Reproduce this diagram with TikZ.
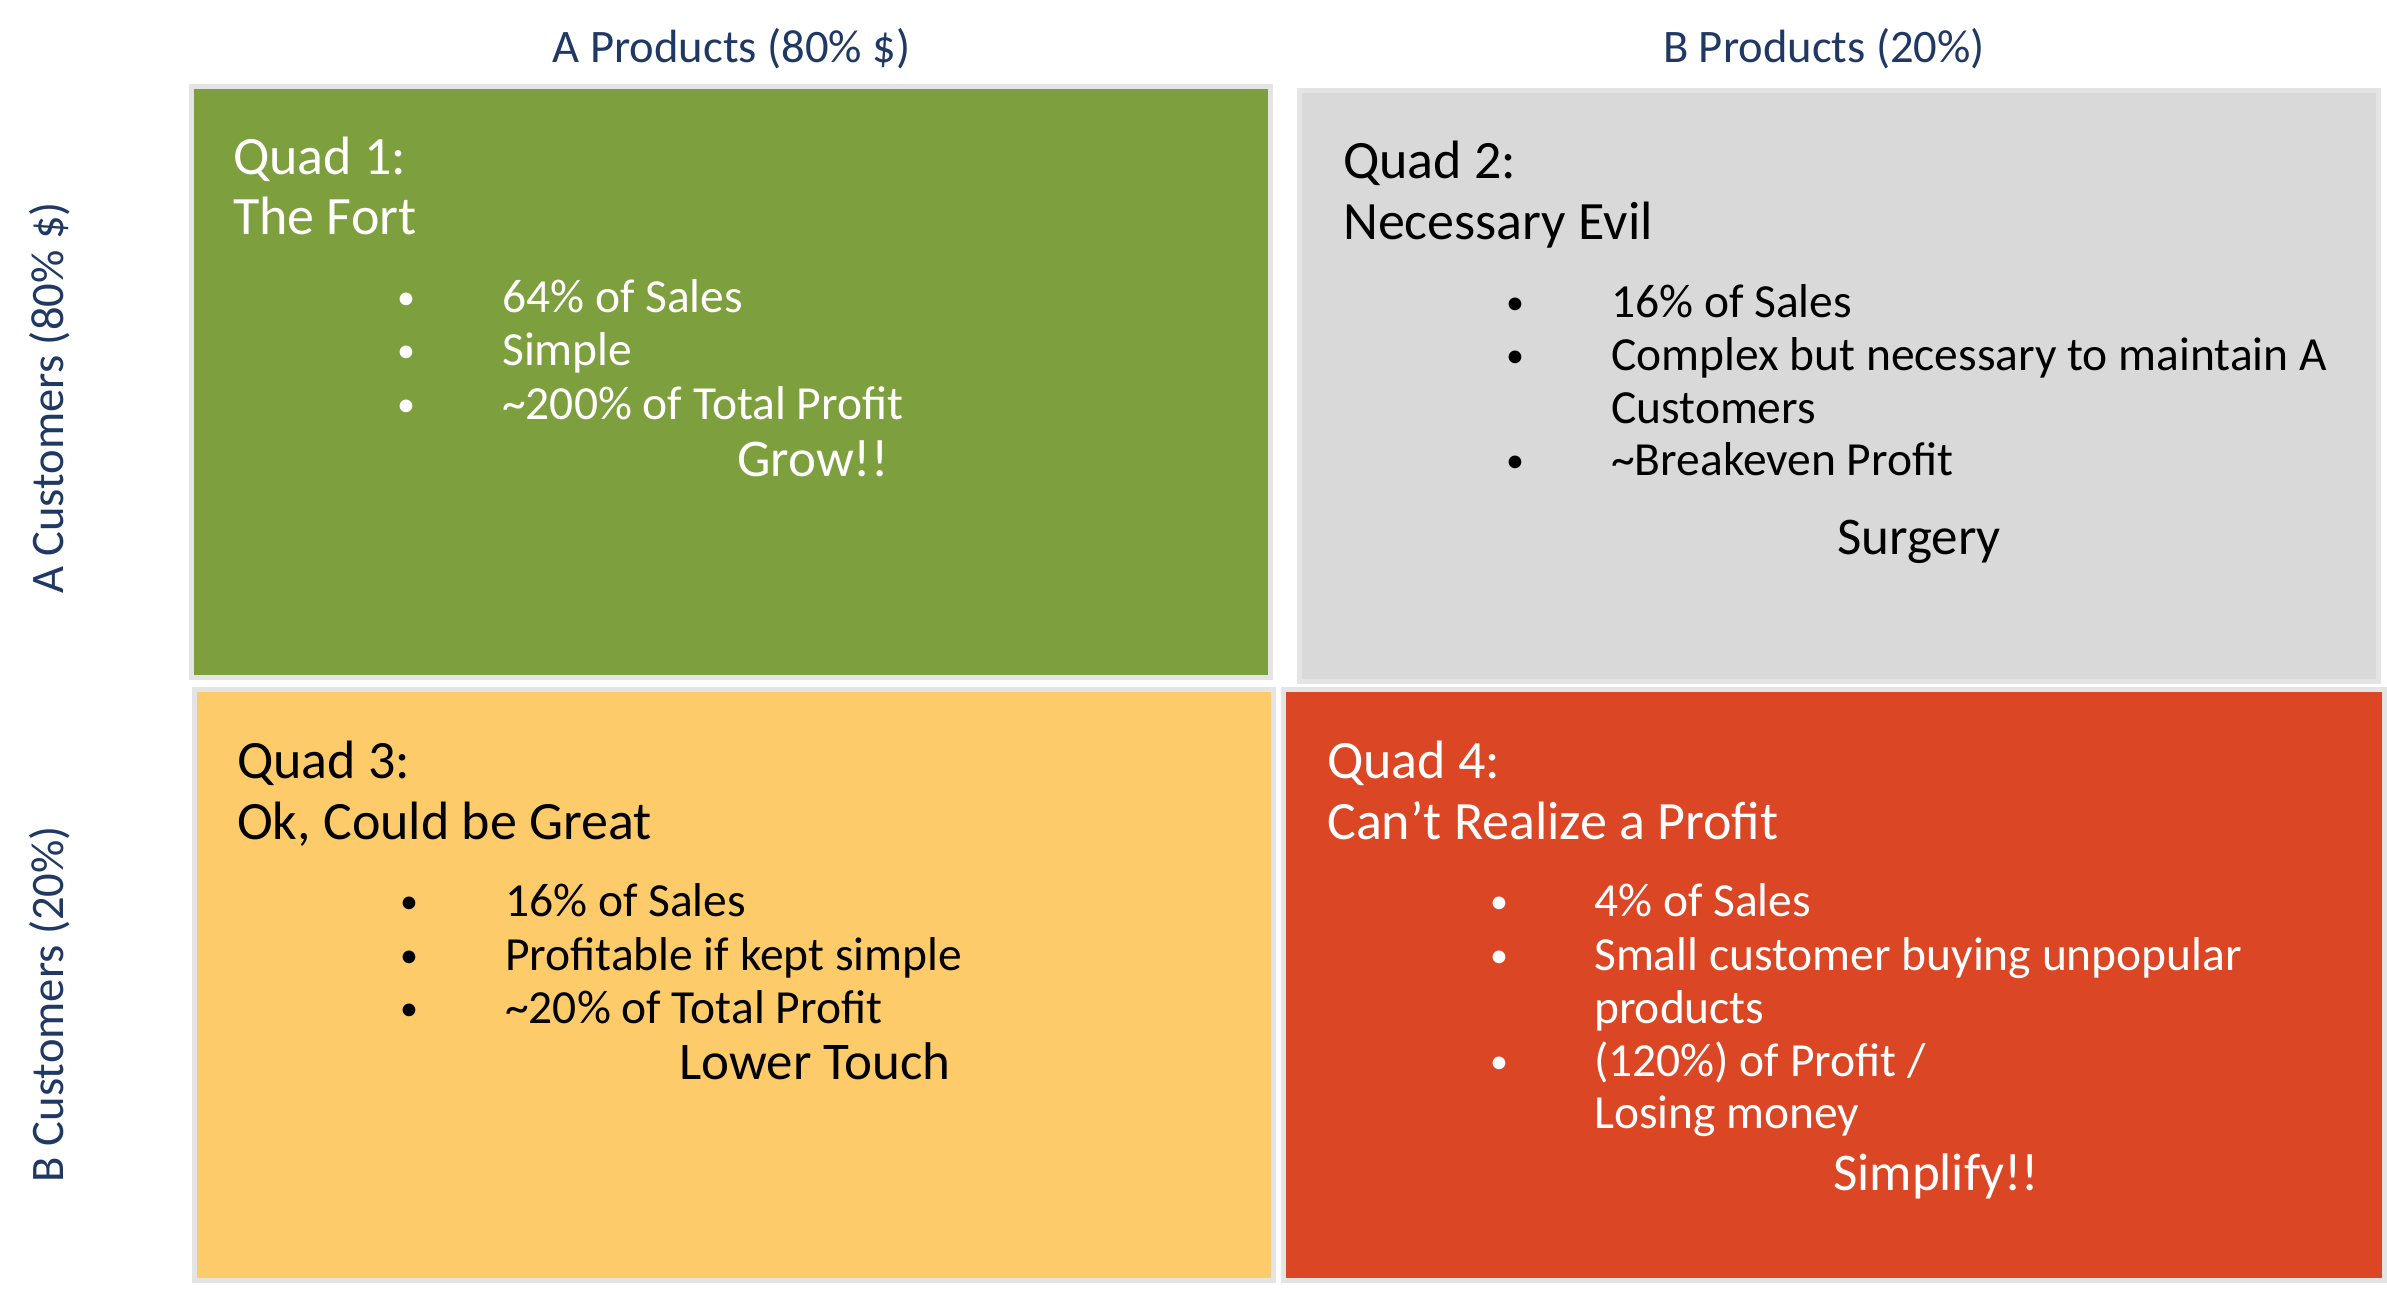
\documentclass[tikz,border=0pt]{standalone}
\usepackage{fontspec}
\setmainfont{Carlito}
\definecolor{qgreen}{HTML}{7E9F3E}
\definecolor{qgray}{HTML}{D9D9D9}
\definecolor{qyellow}{HTML}{FDCB6A}
\definecolor{qred}{HTML}{DB4625}
\definecolor{qborder}{HTML}{E4E4E4}
\definecolor{navy}{HTML}{1F3864}
\begin{document}
\begin{tikzpicture}[x=1pt,y=-1pt,
  quadbox/.style={draw=qborder, line width=5pt},
  ttl/.style={anchor=base west, inner sep=0pt, font=\fontsize{54}{60}\selectfont},
  itm/.style={anchor=base west, inner sep=0pt, font=\fontsize{47.5}{53}\selectfont},
  bul/.style={anchor=base, inner sep=0pt, yshift=3pt, font=\fontsize{36}{40}\selectfont},
  act/.style={anchor=base west, inner sep=0pt, font=\fontsize{53}{60}\selectfont},
  axislbl/.style={inner sep=0pt, text=navy, font=\fontsize{46.6}{50}\selectfont}]
\useasboundingbox (0,0) rectangle (2387,1298);
\fill[white] (0,0) rectangle (2387,1298);

% boxes
\draw[quadbox, fill=qgreen]  (191.5,86.5) rectangle (1270.2,677.2);
\draw[quadbox, fill=qgray]   (1299.2,90.8) rectangle (2378.5,681.2);
\draw[quadbox, fill=qyellow] (194.5,689.2) rectangle (1273.2,1280.2);
\draw[quadbox, fill=qred]    (1283.2,689.2) rectangle (2384.5,1280.2);

% axis labels
\node[axislbl] (ap) at (731.5,49) {A Products (80\% \$)};
\node[axislbl] (bp) at (1824,49) {B Products (20\%)};
\node[axislbl, rotate=90] (ac) at (50,398) {A Customers (80\% \$)};
\node[axislbl, rotate=90] (bc) at (50,1004) {B Customers (20\%)};

% Quad 1
\begin{scope}[every node/.append style={text=white}]
\node[ttl] (q1a) at (233,174) {Quad 1:};
\node[ttl] (q1b) at (233,234) {The Fort};
\node[bul] (q1d1) at (406,312) {•};
\node[itm] (q1i1) at (502,312) {64\% of Sales};
\node[bul] (q1d2) at (406,365) {•};
\node[itm] (q1i2) at (502,365) {Simple};
\node[bul] (q1d3) at (406,419) {•};
\node[itm] (q1i3) at (502,419) {\textasciitilde 200\% of Total Profit};
\node[act] (q1x) at (737,476) {Grow!!};
\end{scope}

% Quad 2
\begin{scope}[every node/.append style={text=black}]
\node[ttl] (q2a) at (1343,178) {Quad 2:};
\node[ttl] (q2b) at (1343,239) {Necessary Evil};
\node[bul] (q2d1) at (1515,317) {•};
\node[itm] (q2i1) at (1611,317) {16\% of Sales};
\node[bul] (q2d2) at (1515,370) {•};
\node[itm] (q2i2) at (1611,370) {Complex but necessary to maintain A};
\node[itm] (q2i2b) at (1611,423) {Customers};
\node[bul] (q2d3) at (1515,475) {•};
\node[itm] (q2i3) at (1611,475) {\textasciitilde Breakeven Profit};
\node[act] (q2x) at (1837,554) {Surgery};
\end{scope}

% Quad 3
\begin{scope}[every node/.append style={text=black}]
\node[ttl] (q3a) at (237,778) {Quad 3:};
\node[ttl] (q3b) at (237,839) {Ok, Could be Great};
\node[bul] (q3d1) at (409,916) {•};
\node[itm] (q3i1) at (505,916) {16\% of Sales};
\node[bul] (q3d2) at (409,970) {•};
\node[itm] (q3i2) at (505,970) {Profitable if kept simple};
\node[bul] (q3d3) at (409,1023) {•};
\node[itm] (q3i3) at (505,1023) {\textasciitilde 20\% of Total Profit};
\node[act] (q3x) at (679,1079) {Lower Touch};
\end{scope}

% Quad 4
\begin{scope}[every node/.append style={text=white}]
\node[ttl] (q4a) at (1327,778) {Quad 4:};
\node[ttl] (q4b) at (1327,839) {Can’t Realize a Profit};
\node[bul] (q4d1) at (1499,916) {•};
\node[itm] (q4i1) at (1594,916) {4\% of Sales};
\node[bul] (q4d2) at (1499,970) {•};
\node[itm] (q4i2) at (1594,970) {Small customer buying unpopular};
\node[itm] (q4i2b) at (1594,1023) {products};
\node[bul] (q4d3) at (1499,1076) {•};
\node[itm] (q4i3) at (1594,1076) {(120\%) of Profit /};
\node[itm] (q4i3b) at (1594,1128) {Losing money};
\node[act] (q4x) at (1833,1190) {Simplify!!};
\end{scope}
\end{tikzpicture}
\end{document}
